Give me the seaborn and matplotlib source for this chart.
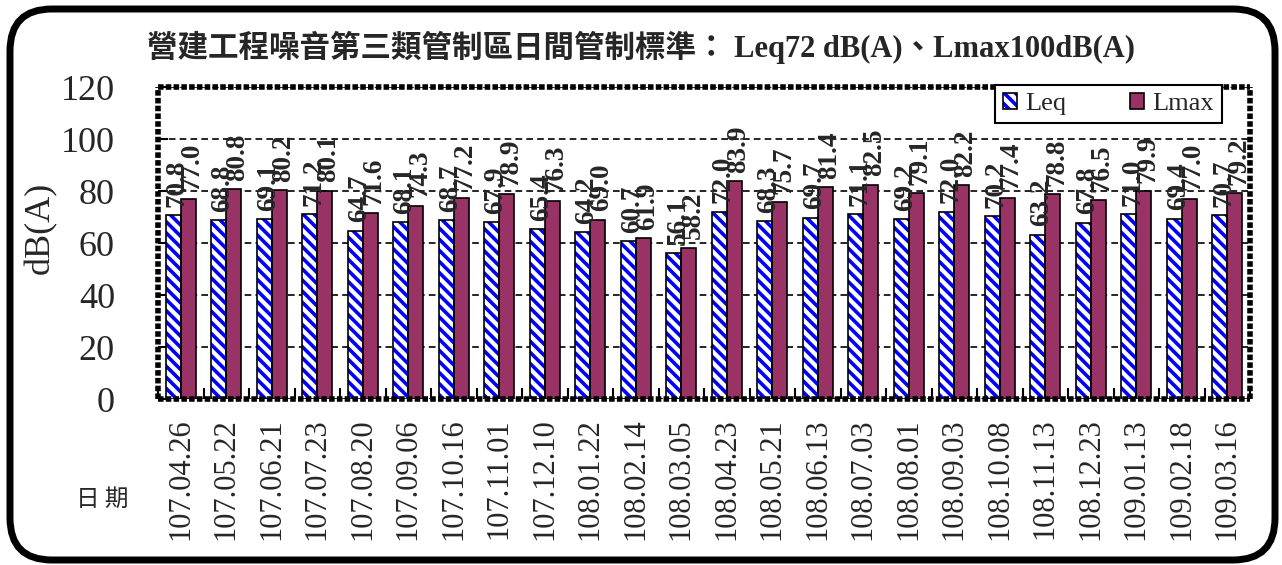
import matplotlib
matplotlib.use("Agg")
import matplotlib.pyplot as plt
from matplotlib.patches import Rectangle, FancyBboxPatch, Patch
from matplotlib.legend_handler import HandlerTuple
from matplotlib.ticker import FixedLocator
import numpy as np
import pandas as pd
import seaborn as sns

# Monitoring dates (ROC calendar) and measured noise levels, dB(A)
dates = ["107.04.26", "107.05.22", "107.06.21", "107.07.23", "107.08.20", "107.09.06",
         "107.10.16", "107.11.01", "107.12.10", "108.01.22", "108.02.14", "108.03.05",
         "108.04.23", "108.05.21", "108.06.13", "108.07.03", "108.08.01", "108.09.03",
         "108.10.08", "108.11.13", "108.12.23", "109.01.13", "109.02.18", "109.03.16"]
leq = [70.8, 68.8, 69.1, 71.2, 64.7, 68.1, 68.7, 67.9, 65.4, 64.2, 60.7, 56.1,
       72.0, 68.3, 69.7, 71.1, 69.2, 72.0, 70.2, 63.2, 67.8, 71.0, 69.4, 70.7]
lmax = [77.0, 80.8, 80.2, 80.1, 71.6, 74.3, 77.2, 78.9, 76.3, 69.0, 61.9, 58.2,
        83.9, 75.7, 81.4, 82.5, 79.1, 82.2, 77.4, 78.8, 76.5, 79.9, 77.0, 79.2]
series_names = ["Leq", "Lmax"]
y_ticks = [0, 20, 40, 60, 80, 100, 120]

title = "營建工程噪音第三類管制區日間管制標準： Leq72 dB(A)、Lmax100dB(A)"

HATCH = "\\" * 3

sns.set_style("white")
plt.rcParams["font.family"] = ["Liberation Serif", "Noto Sans CJK TC"]
plt.rcParams["hatch.linewidth"] = 2.6

df = pd.DataFrame({
    "date": dates * 2,
    "value": leq + lmax,
    "series": [series_names[0]] * len(dates) + [series_names[1]] * len(dates),
})

fig = plt.figure(figsize=(12.82, 5.65), dpi=100)
ax = fig.add_axes([158 / 1282, 1 - 399 / 565, 1092 / 1282, 312 / 565])

sns.barplot(data=df, x="date", y="value", hue="series", order=dates,
            hue_order=series_names,
            palette={"Leq": "white", "Lmax": "#993366"},
            width=0.66, saturation=1, edgecolor="black", linewidth=1.2,
            errorbar=None, legend=False, ax=ax)

# Leq bars: blue diagonal hatch on white with a black outline on top
leq_bars = ax.containers[0]
for p in leq_bars:
    p.set_hatch(HATCH)
    p.set_edgecolor("#0000FF")
    p.set_linewidth(0)
    ax.add_patch(Rectangle(p.get_xy(), p.get_width(), p.get_height(),
                           fill=False, edgecolor="black", linewidth=1.2,
                           zorder=p.get_zorder() + 0.1))

# Rotated value labels
for cont in ax.containers:
    texts = ax.bar_label(cont, fmt="%.1f", rotation=90, padding=6,
                         fontsize=19.5, fontweight="bold")
    for t in texts:
        t.xyann = (3, 6)

ax.set_ylim(0, 120)
ax.set_xlim(-0.5, len(dates) - 0.5)
ax.set_yticks(y_ticks)
ax.set_yticklabels([str(v) for v in y_ticks], fontsize=26)
ax.set_xticks(range(len(dates)))
ax.set_xticklabels(dates, rotation=90, fontsize=22)
ax.xaxis.set_minor_locator(FixedLocator(np.arange(len(dates) + 1) - 0.5))
ax.tick_params(axis="x", which="major", length=0, pad=14)
ax.tick_params(axis="x", which="minor", direction="in", length=8, width=1.5,
               color="black", bottom=True)
ax.tick_params(axis="y", which="major", direction="in", length=7, width=1.5,
               color="black", pad=31, left=True)

ax.set_xlabel("")
ax.set_ylabel("dB(A)", fontsize=26)
ax.yaxis.set_label_coords(-0.092, 0.55)

ax.set_axisbelow(True)
ax.yaxis.grid(True, linestyle=(0, (4, 2.5)), color="black", linewidth=1.2)

# Dotted plot-area border
for s in ax.spines.values():
    s.set_visible(True)
    s.set_color("black")
    s.set_linewidth(4)
    s.set_capstyle("butt")
    s.set_linestyle((0, (1.0, 0.4)))

# Legend with hatched Leq swatch
leq_fill = Patch(facecolor="white", edgecolor="#0000FF", hatch=HATCH, linewidth=0)
leq_edge = Patch(facecolor="none", edgecolor="black", linewidth=1.2)
lmax_patch = Patch(facecolor="#993366", edgecolor="black", linewidth=1.2)
leg = ax.legend([(leq_fill, leq_edge), lmax_patch], series_names,
                handler_map={tuple: HandlerTuple(ndivide=1, pad=0)},
                loc="upper right", bbox_to_anchor=(0.974, 1.006), ncol=2,
                fontsize=19, frameon=True, fancybox=False, edgecolor="black",
                framealpha=1, borderpad=0.3, handlelength=0.55,
                handleheight=0.55, handletextpad=0.3, columnspacing=2.4,
                borderaxespad=0)
leg.get_frame().set_linewidth(1.5)

fig.text(0.5, 1 - 47 / 565, title, ha="center", va="center",
         fontsize=22, fontweight="bold")
fig.text(102 / 1282, 1 - 499 / 565, "日 期", ha="center", va="center",
         fontsize=17, family=["Noto Sans CJK TC", "Liberation Serif"])

# Rounded outer frame
frame = FancyBboxPatch((0.10, 0.05), 12.65, 5.51,
                       boxstyle="round,pad=0,rounding_size=0.42",
                       transform=fig.dpi_scale_trans, facecolor="none",
                       edgecolor="black", linewidth=5, clip_on=False)
fig.patches.append(frame)

fig.savefig("out.png", dpi=100)
